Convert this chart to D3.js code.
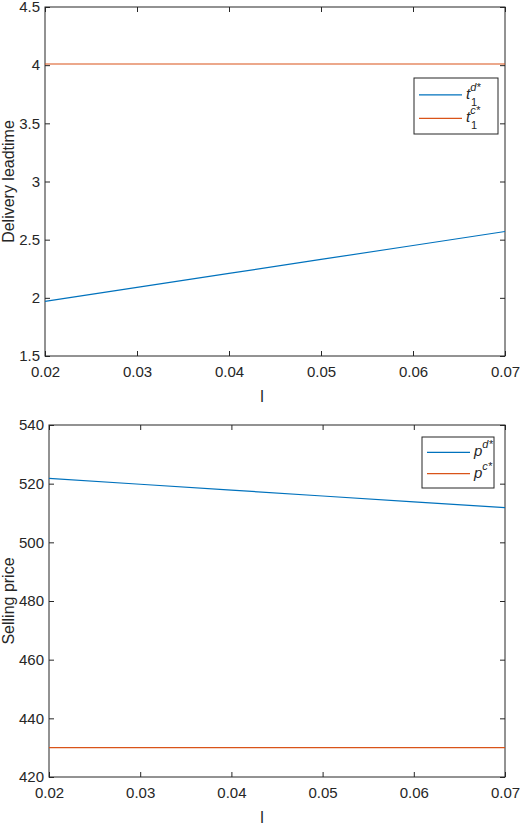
<!DOCTYPE html><html><head><script src="https://cdn.jsdelivr.net/npm/d3@7"></script>
<style>body{margin:0;background:#fff}text{font-family:Arial,"Liberation Sans",sans-serif}</style></head><body><svg id="c" width="520" height="828"></svg>
<script>
const xValues=[0.02,0.03,0.04,0.05,0.06,0.07];
const leadD=[1.97,2.09,2.21,2.33,2.45,2.57];
const leadC=[4.01,4.01,4.01,4.01,4.01,4.01];
const priceD=[521.8,519.8,517.8,515.8,513.8,511.8];
const priceC=[430,430,430,430,430,430];
const xTicks=[0.02,0.03,0.04,0.05,0.06,0.07];
const yTicksTop=[1.5,2,2.5,3,3.5,4,4.5];
const yTicksBot=[420,440,460,480,500,520,540];
const blue="#0072BD",orange="#D95319";
const svg=d3.select("#c");
function panel(p){
 const x=d3.scaleLinear().domain([0.02,0.07]).range([p.l,505]);
 const y=d3.scaleLinear().domain(p.dom).range([p.b,p.t]);
 const g=svg.append("g");
 g.append("rect").attr("x",p.l).attr("y",p.t).attr("width",505-p.l).attr("height",p.b-p.t).attr("fill","#fff").attr("stroke","#262626");
 const ax=g.append("g").attr("transform",`translate(0,${p.b})`).call(d3.axisBottom(x).tickValues(xTicks).tickFormat(d3.format(".2f")).tickSize(-5).tickPadding(10).tickSizeOuter(0));
 const ax2=g.append("g").attr("transform",`translate(0,${p.t})`).call(d3.axisTop(x).tickValues(xTicks).tickFormat("").tickSize(-5).tickSizeOuter(0));
 const ay=g.append("g").attr("transform",`translate(${p.l},0)`).call(d3.axisLeft(y).tickValues(p.ticks).tickFormat(d=>d).tickSize(-5).tickPadding(5).tickSizeOuter(0));
 const ay2=g.append("g").attr("transform",`translate(505,0)`).call(d3.axisRight(y).tickValues(p.ticks).tickFormat("").tickSize(-5).tickSizeOuter(0));
 [ax,ax2,ay,ay2].forEach(a=>{a.select(".domain").remove();a.selectAll("line").attr("stroke","#262626");a.selectAll("text").attr("font-size",15).attr("fill","#262626");});
 const line=d3.line().x((d,i)=>x(xValues[i])).y(d=>y(d));
 g.append("path").attr("d",line(p.s1)).attr("fill","none").attr("stroke",blue).attr("stroke-width",1.2);
 g.append("path").attr("d",line(p.s2)).attr("fill","none").attr("stroke",orange).attr("stroke-width",1.2);
 g.append("text").attr("x",262).attr("y",p.b+46).attr("text-anchor","middle").attr("font-size",16).attr("fill","#262626").text("l");
 g.append("text").attr("transform",`translate(14,${(p.t+p.b)/2}) rotate(-90)`).attr("text-anchor","middle").attr("font-size",16).attr("fill","#262626").text(p.ylab);
 const L=p.leg;
 g.append("rect").attr("x",L.x).attr("y",L.y).attr("width",L.w).attr("height",L.h).attr("fill","#fff").attr("stroke","#262626");
 [[blue,p.lab[0]],[orange,p.lab[1]]].forEach((e,i)=>{
  const yy=L.y+L.h*(i===0?0.3:0.72);
  g.append("line").attr("x1",L.x+5).attr("x2",L.x+48).attr("y1",yy).attr("y2",yy).attr("stroke",e[0]).attr("stroke-width",1.2);
  const t=g.append("text").attr("x",L.x+52).attr("y",yy+4).attr("font-size",15).attr("font-style","italic").attr("fill","#262626");
  t.append("tspan").text(e[1][0]);
  t.append("tspan").attr("dy",-8).attr("font-size",11).text(e[1][1]+"*");
  if(e[1][2]) t.append("tspan").attr("x",L.x+57).attr("dy",15).attr("font-size",11).attr("font-style","normal").text(e[1][2]);
 });
}
panel({l:45,t:7,b:356,dom:[1.5,4.5],ticks:yTicksTop,s1:leadD,s2:leadC,ylab:"Delivery leadtime",leg:{x:414,y:78,w:84,h:56},lab:[["t","d","1"],["t","c","1"]]});
panel({l:49,t:425,b:777,dom:[420,540],ticks:yTicksBot,s1:priceD,s2:priceC,ylab:"Selling price",leg:{x:422,y:437,w:72,h:51},lab:[["p","d"],["p","c"]]});
</script></body></html>
